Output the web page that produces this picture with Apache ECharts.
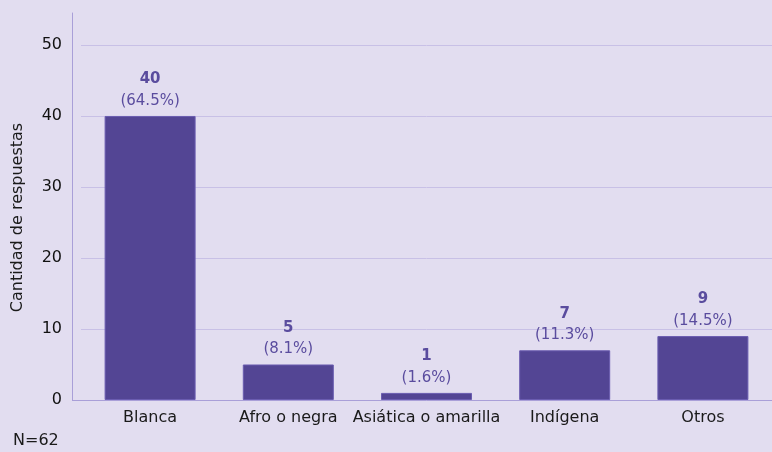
<!DOCTYPE html>
<html>
<head>
<meta charset="utf-8">
<script src="https://cdn.jsdelivr.net/npm/echarts@6/dist/echarts.min.js"></script>
<style>
  html, body { margin: 0; padding: 0; background: #e2ddf0; }
  #main { width: 772px; height: 452px; }
</style>
</head>
<body>
<div id="main"></div>
<script>
// datos
const categories = ["Blanca", "Afro o negra", "Asiática o amarilla", "Indígena", "Otros"];
const counts = [40, 5, 1, 7, 9];
const percents = ["64.5%", "8.1%", "1.6%", "11.3%", "14.5%"];
const yTicks = [0, 10, 20, 30, 40, 50];
const sampleNote = "N=62";

const font = "DejaVu Sans";
const purple = "#534594";

var myChart = echarts.init(document.getElementById("main"));
myChart.setOption({
  backgroundColor: "#e2ddf0",
  textStyle: { fontFamily: font },
  grid: { left: 81, right: 0, top: 13, bottom: 52 },
  xAxis: {
    type: "category",
    data: categories,
    axisLine: { lineStyle: { color: "#a99fd8", width: 1 } },
    axisTick: { show: false },
    axisLabel: { color: "#1a1a1a", fontSize: 16, margin: 10, interval: 0, fontFamily: font },
  },
  yAxis: {
    type: "value",
    min: 0,
    max: 54.5,
    interval: 10,
    offset: 9,
    name: "Cantidad de respuestas",
    nameLocation: "middle",
    nameGap: 46,
    nameTextStyle: { color: "#1a1a1a", fontSize: 16, fontFamily: font, padding: [0, 22, 0, 0] },
    axisLine: { show: true, lineStyle: { color: "#a99fd8", width: 1 } },
    axisTick: { show: false },
    axisLabel: {
      color: "#111",
      fontSize: 16,
      margin: 10,
      fontFamily: font,
      showMaxLabel: false,
      formatter: function (v) {
        return yTicks.indexOf(v) >= 0 ? String(v) : "";
      },
    },
    splitLine: { show: true, showMaxLine: false, lineStyle: { color: "#c8c0e6", width: 1 } },
  },
  graphic: [
    {
      type: "line",
      shape: { x1: 72, y1: 400.5, x2: 81, y2: 400.5 },
      style: { stroke: "#a99fd8", lineWidth: 1 },
      silent: true,
    },
    {
      type: "text",
      left: 13,
      top: 433,
      style: { text: sampleNote, fill: "#1a1a1a", fontSize: 16, fontFamily: font },
    },
  ],
  series: [
    {
      type: "bar",
      data: counts,
      barWidth: 91,
      itemStyle: { color: purple, borderColor: "#6a5cb0", borderWidth: 1 },
      label: {
        show: true,
        position: "top",
        distance: 5,
        formatter: function (p) {
          return "{v|" + p.value + "}\n{p|(" + percents[p.dataIndex] + ")}";
        },
        rich: {
          v: { color: "#5a4c9e", fontSize: 15, fontWeight: "bold", lineHeight: 23, align: "center", fontFamily: font },
          p: { color: "#5a4c9e", fontSize: 15, lineHeight: 20, align: "center", fontFamily: font },
        },
      },
    },
  ],
});
</script>
</body>
</html>
